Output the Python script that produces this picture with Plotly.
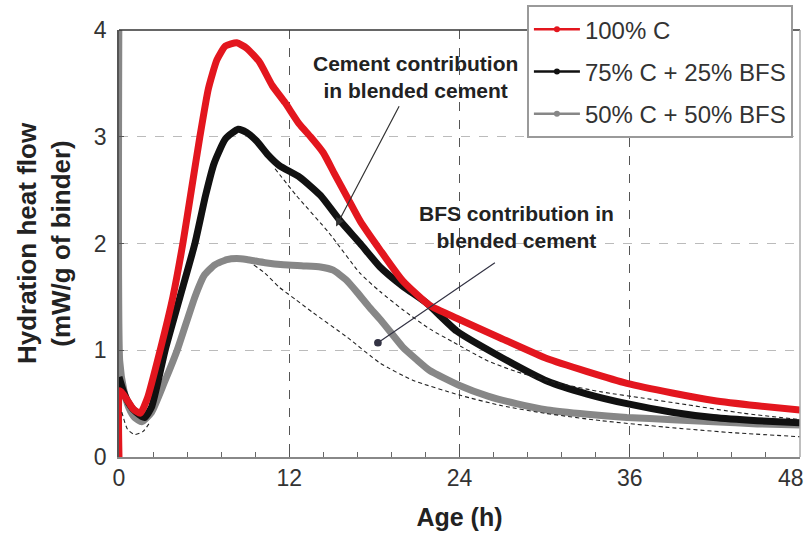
import plotly.graph_objects as go

# ---- heat-flow curves (age in h, heat flow in mW/g of binder) ----
t_c100 = [0.0, 0.05, 0.5, 1.0, 1.5, 2.0, 2.9, 3.8, 4.5, 5.1, 5.7, 6.3, 6.9, 7.5, 8.3, 9.0, 9.9,
          10.8, 11.7, 12.7, 13.5, 14.4, 15.2, 16.1, 17.0, 18.4, 20.0, 21.9, 23.8, 26.8,
          30.2, 33.0, 35.8, 39.0, 41.9, 45.0, 48.0]
q_c100 = [0.0, 0.62, 0.55, 0.45, 0.41, 0.55, 1.0, 1.5, 2.0, 2.5, 3.0, 3.45, 3.72, 3.85, 3.88, 3.83, 3.7,
          3.48, 3.32, 3.12, 3.0, 2.85, 2.65, 2.43, 2.21, 1.94, 1.65, 1.42, 1.3, 1.12,
          0.92, 0.8, 0.69, 0.6, 0.53, 0.48, 0.44]

t_c75 = [0.0, 0.3, 0.7, 1.2, 1.8, 2.3, 3.25, 4.3, 5.35, 6.1, 6.7, 7.5, 8.4, 9.0, 9.7, 10.5,
         11.3, 12.75, 14.2, 15.6, 17.0, 18.4, 20.0, 21.7, 23.8, 27.0, 30.2, 33.0, 35.8,
         39.0, 41.9, 45.0, 48.0]
q_c75 = [0.75, 0.62, 0.5, 0.42, 0.37, 0.47, 1.0, 1.5, 2.0, 2.45, 2.75, 2.98, 3.07, 3.04, 2.96, 2.83,
         2.73, 2.62, 2.45, 2.21, 2.0, 1.78, 1.6, 1.44, 1.18, 0.93, 0.71, 0.59, 0.5,
         0.42, 0.37, 0.34, 0.32]

t_c50 = [0.0, 0.05, 0.35, 0.7, 1.1, 1.6, 2.3, 3.2, 4.1, 5.35, 6.0, 6.75, 7.6, 8.3, 9.0, 10.3, 11.6,
         13.0, 14.2, 15.1, 16.0, 16.8, 17.6, 18.4, 19.2, 20.0, 21.0, 21.9, 24.0, 26.0, 28.0,
         30.2, 33.0, 35.8, 39.0, 41.9, 45.0, 48.0]
q_c50 = [4.5, 0.9, 0.62, 0.46, 0.37, 0.33, 0.42, 0.7, 1.0, 1.5, 1.7, 1.8, 1.85, 1.86, 1.85, 1.82, 1.8,
         1.79, 1.78, 1.75, 1.66, 1.54, 1.41, 1.29, 1.16, 1.03, 0.91, 0.81, 0.67, 0.57, 0.5,
         0.44, 0.4, 0.37, 0.35, 0.33, 0.31, 0.3]

# ---- contributions (thin dashed) ----
t_cem75 = [11.0, 12.5, 14.8, 17.0, 18.4, 20.0, 21.9, 23.5, 26.0, 28.0, 31.0, 34.0, 37.0, 40.0, 44.0, 48.0]
q_cem75 = [2.70, 2.45, 2.10, 1.72, 1.55, 1.38, 1.20, 1.08, 0.90, 0.80, 0.69, 0.61, 0.55, 0.49, 0.41, 0.35]

t_cem50 = [9.5, 10.3, 11.3, 12.5, 13.7, 16.1, 18.4, 20.7, 24.0, 27.0, 30.0, 34.0, 38.5, 43.0, 48.0]
q_cem50 = [1.80, 1.72, 1.59, 1.47, 1.35, 1.12, 0.88, 0.72, 0.58, 0.48, 0.41, 0.34, 0.28, 0.23, 0.19]

t_early = [0.2, 0.6, 1.1, 1.7, 2.2]
q_early = [0.42, 0.26, 0.21, 0.24, 0.33]

series_names = ["100% C", "75% C + 25% BFS", "50% C + 50% BFS"]
series_colors = ["#e3161e", "#111111", "#878787"]

x_ticks = [0, 12, 24, 36, 48]
y_ticks = [0, 1, 2, 3, 4]

FONT = "Liberation Sans, Arial, sans-serif"

fig = go.Figure()

# thick measured curves (gray under black under red)
for t, q, col in [(t_c50, q_c50, series_colors[2]),
                  (t_c75, q_c75, series_colors[1]),
                  (t_c100, q_c100, series_colors[0])]:
    fig.add_trace(go.Scatter(x=t, y=q, mode="lines", showlegend=False,
                             line=dict(color=col, width=7, shape="spline", smoothing=0.5),
                             hoverinfo="skip"))

# dashed contribution curves
for t, q in [(t_cem75, q_cem75), (t_cem50, q_cem50), (t_early, q_early)]:
    fig.add_trace(go.Scatter(x=t, y=q, mode="lines", showlegend=False,
                             line=dict(color="#222222", width=1.1, dash="4px,3px",
                                       shape="spline", smoothing=0.6),
                             hoverinfo="skip"))

# legend entries: thin line with a small dot
for i, (name, col) in enumerate(zip(series_names, series_colors)):
    fig.add_trace(go.Scatter(x=[None], y=[None], mode="lines+markers", name=name,
                             legendgroup=f"g{i}",
                             line=dict(color=col, width=2.5),
                             marker=dict(color=col, size=6, symbol="circle")))

# annotation arrows
fig.add_annotation(x=15.3, y=2.16, ax=19.8, ay=3.30, xref="x", yref="y", axref="x", ayref="y",
                   text="", showarrow=True, arrowhead=2, arrowsize=1.4, arrowwidth=1.2,
                   arrowcolor="#333333")
fig.add_annotation(x=18.25, y=1.07, ax=26.6, ay=1.83, xref="x", yref="y", axref="x", ayref="y",
                   text="", showarrow=True, arrowhead=6, arrowsize=1.6, arrowwidth=1.2,
                   arrowcolor="#334")

fig.add_annotation(x=20.9, y=3.56, xref="x", yref="y", showarrow=False,
                   text="<b>Cement contribution<br>in blended cement</b>",
                   font=dict(family=FONT, size=21, color="#222222"), align="center")
fig.add_annotation(x=28.0, y=2.15, xref="x", yref="y", showarrow=False,
                   text="<b>BFS contribution in<br>blended cement</b>",
                   font=dict(family=FONT, size=21, color="#222222"), align="center")

# last x tick label, kept inside the right edge
fig.add_annotation(x=48, y=0, xref="x", yref="y", yshift=-21, xshift=6, showarrow=False,
                   text="48", font=dict(family=FONT, size=23, color="#333333"),
                   xanchor="right", yanchor="middle")

# frame
fig.add_shape(type="line", xref="paper", yref="paper", x0=0, x1=1, y0=1, y1=1,
              line=dict(color="#333333", width=1.5))
fig.add_shape(type="line", xref="paper", yref="paper", x0=1, x1=1, y0=0, y1=1,
              line=dict(color="#aaaaaa", width=1.5))

fig.update_layout(
    width=807, height=545,
    margin=dict(l=119, r=7, t=30, b=88, autoexpand=False),
    paper_bgcolor="white", plot_bgcolor="white",
    font=dict(family=FONT, color="#333333"),
    legend=dict(x=0.599, y=1.058, xanchor="left", yanchor="top",
                bgcolor="white", bordercolor="#9a9a9a", borderwidth=2,
                font=dict(family=FONT, size=24, color="#333333"),
                tracegroupgap=8, itemwidth=46, entrywidth=260),
    showlegend=True,
)

fig.update_xaxes(range=[0, 48], tickvals=x_ticks[:-1], ticktext=[str(v) for v in x_ticks[:-1]],
                 ticks="inside", ticklen=7, tickcolor="#555555",
                 minor=dict(dtick=2.4, tick0=0, ticks="inside", ticklen=5, tickcolor="#666666",
                            showgrid=False),
                 showline=True, linecolor="#888888", linewidth=1.5,
                 showgrid=True, gridcolor="#555555", griddash="dash", gridwidth=1,
                 zeroline=False, tickfont=dict(size=23, color="#333333"),
                 title=dict(text="<b>Age (h)</b>", font=dict(size=25, color="#222222"), standoff=18))

fig.update_yaxes(range=[0, 4], tickvals=y_ticks,
                 ticks="inside", ticklen=5, tickcolor="#555555",
                 showline=True, linecolor="#555555", linewidth=1.5,
                 showgrid=True, gridcolor="#bbbbbb", griddash="dash", gridwidth=1,
                 zeroline=False, tickfont=dict(size=23, color="#333333"),
                 ticklabelstandoff=6,
                 title=dict(text="<b>Hydration heat flow<br>(mW/g of binder)</b>",
                            font=dict(size=26, color="#222222"), standoff=16))

fig.write_html("out.html")
